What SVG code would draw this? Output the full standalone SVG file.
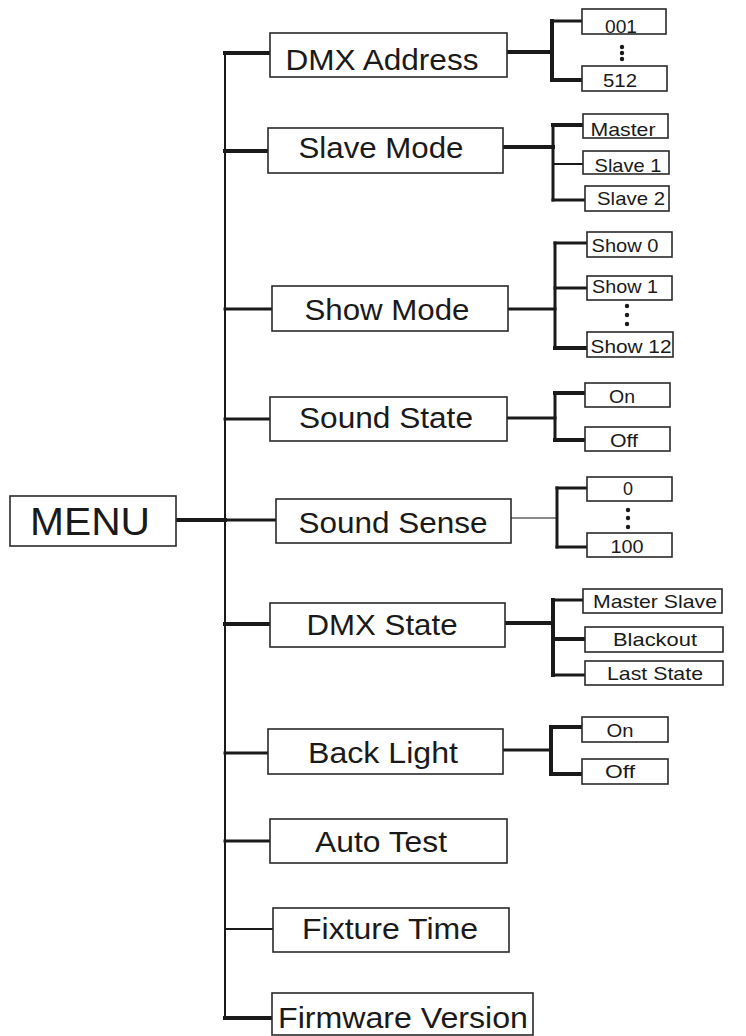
<svg xmlns="http://www.w3.org/2000/svg" width="746" height="1036" viewBox="0 0 746 1036">
<style>
.box{fill:#fff;stroke:#2a2a2a;stroke-width:1.6}
.lbl{font-family:"Liberation Sans",Arial,sans-serif;font-size:29px;fill:#1a1a1a;text-anchor:middle}
.opt{font-family:"Liberation Sans",Arial,sans-serif;font-size:19px;fill:#1a1a1a;text-anchor:middle}
.menu{font-family:"Liberation Sans",Arial,sans-serif;font-size:39px;fill:#1a1a1a;text-anchor:middle}
.c{stroke:#1a1a1a;fill:none;stroke-linecap:square}
.w2{stroke-width:2}.w3{stroke-width:3}.w4{stroke-width:4}
.g{stroke:#8a8a8a}
.dot{fill:#1a1a1a}
</style>
<g id="connectors">
  <!-- trunk -->
  <path class="c w2" d="M225 53 V1018"/>
  <!-- MENU -->
  <path class="c w4" d="M176 520 H225"/>
  <path class="c w3" d="M225 520 H276"/>
  <!-- DMX Address -->
  <path class="c w4" d="M225 53 H270"/>
  <path class="c w4" d="M507 52 H552"/>
  <path class="c w4" d="M552 21 V80"/>
  <path class="c w3" d="M552 21 H582"/>
  <path class="c w4" d="M552 80 H582"/>
  <!-- Slave Mode -->
  <path class="c w4" d="M225 151 H268"/>
  <path class="c w4" d="M503 147 H553"/>
  <path class="c w3" d="M553 125 V200"/>
  <path class="c w4" d="M553 125 H583"/>
  <path class="c w2" d="M553 164 H583"/>
  <path class="c w3" d="M553 200 H585"/>
  <!-- Show Mode -->
  <path class="c w3" d="M225 309 H272"/>
  <path class="c w3" d="M508 309 H555"/>
  <path class="c w3" d="M555 243 V348"/>
  <path class="c w3" d="M555 243 H587"/>
  <path class="c w3" d="M555 288 H587"/>
  <path class="c w4" d="M555 348 H587"/>
  <!-- Sound State -->
  <path class="c w3" d="M225 419 H270"/>
  <path class="c w3" d="M507 418 H555"/>
  <path class="c w3" d="M555 393 V440"/>
  <path class="c w4" d="M555 393 H585"/>
  <path class="c w4" d="M555 440 H585"/>
  <!-- Sound Sense -->
  <path class="c w2 g" d="M511 518 H557"/>
  <path class="c w3" d="M557 488 V547"/>
  <path class="c w3" d="M557 488 H587"/>
  <path class="c w3" d="M557 547 H587"/>
  <!-- DMX State -->
  <path class="c w4" d="M225 624 H270"/>
  <path class="c w4" d="M505 623 H553"/>
  <path class="c w4" d="M553 600 V675"/>
  <path class="c w3" d="M553 600 H583"/>
  <path class="c w4" d="M553 639 H585"/>
  <path class="c w3" d="M553 675 H585"/>
  <!-- Back Light -->
  <path class="c w3" d="M225 753 H268"/>
  <path class="c w3" d="M503 750 H551"/>
  <path class="c w4" d="M551 727 V774"/>
  <path class="c w4" d="M551 727 H582"/>
  <path class="c w4" d="M551 774 H582"/>
  <!-- Auto Test -->
  <path class="c w3" d="M225 841 H270"/>
  <!-- Fixture Time -->
  <path class="c w2" d="M225 929 H273"/>
  <!-- Firmware Version -->
  <path class="c w4" d="M225 1018 H272"/>
</g>
<g id="menu">
  <rect class="box" x="10" y="496" width="166" height="50"/>
  <text class="menu" x="90" y="535" textLength="120" lengthAdjust="spacingAndGlyphs">MENU</text>
</g>
<g id="dmx-address">
  <rect class="box" x="270" y="33" width="237" height="44"/>
  <text class="lbl" x="382" y="70" textLength="193" lengthAdjust="spacingAndGlyphs">DMX Address</text>
</g>
<g id="dmx-001">
  <rect class="box" x="582" y="9" width="84" height="25"/>
  <text class="opt" x="621" y="33" textLength="32" lengthAdjust="spacingAndGlyphs">001</text>
</g>
<g id="dmx-dots"><circle class="dot" cx="622" cy="47" r="2.2"/><circle class="dot" cx="622" cy="53" r="2.2"/><circle class="dot" cx="622" cy="59" r="2.2"/></g>
<g id="dmx-512">
  <rect class="box" x="582" y="66" width="85" height="25"/>
  <text class="opt" x="620" y="87" textLength="34" lengthAdjust="spacingAndGlyphs">512</text>
</g>
<g id="slave-mode">
  <rect class="box" x="268" y="128" width="235" height="45"/>
  <text class="lbl" x="381" y="158" textLength="165" lengthAdjust="spacingAndGlyphs">Slave Mode</text>
</g>
<g id="master">
  <rect class="box" x="583" y="114" width="85" height="24"/>
  <text class="opt" x="623" y="136" textLength="65" lengthAdjust="spacingAndGlyphs">Master</text>
</g>
<g id="slave1">
  <rect class="box" x="583" y="151" width="86" height="23"/>
  <text class="opt" x="628" y="172" textLength="67" lengthAdjust="spacingAndGlyphs">Slave 1</text>
</g>
<g id="slave2">
  <rect class="box" x="585" y="186" width="84" height="25"/>
  <text class="opt" x="631" y="205" textLength="68" lengthAdjust="spacingAndGlyphs">Slave 2</text>
</g>
<g id="show-mode">
  <rect class="box" x="272" y="286" width="236" height="45"/>
  <text class="lbl" x="387" y="320" textLength="165" lengthAdjust="spacingAndGlyphs">Show Mode</text>
</g>
<g id="show0">
  <rect class="box" x="587" y="232" width="85" height="25"/>
  <text class="opt" x="625" y="252" textLength="67" lengthAdjust="spacingAndGlyphs">Show 0</text>
</g>
<g id="show1">
  <rect class="box" x="587" y="276" width="85" height="24"/>
  <text class="opt" x="625" y="293" textLength="66" lengthAdjust="spacingAndGlyphs">Show 1</text>
</g>
<g id="show-dots"><circle class="dot" cx="627" cy="306" r="2.2"/><circle class="dot" cx="627" cy="315" r="2.2"/><circle class="dot" cx="627" cy="324" r="2.2"/></g>
<g id="show12">
  <rect class="box" x="587" y="332" width="86" height="25"/>
  <text class="opt" x="631" y="353" textLength="81" lengthAdjust="spacingAndGlyphs">Show 12</text>
</g>
<g id="sound-state">
  <rect class="box" x="270" y="397" width="237" height="44"/>
  <text class="lbl" x="386" y="428" textLength="174" lengthAdjust="spacingAndGlyphs">Sound State</text>
</g>
<g id="ss-on">
  <rect class="box" x="585" y="383" width="85" height="24"/>
  <text class="opt" x="622" y="403" textLength="26" lengthAdjust="spacingAndGlyphs">On</text>
</g>
<g id="ss-off">
  <rect class="box" x="585" y="427" width="85" height="24"/>
  <text class="opt" x="624" y="447" textLength="28" lengthAdjust="spacingAndGlyphs">Off</text>
</g>
<g id="sound-sense">
  <rect class="box" x="276" y="499" width="235" height="44"/>
  <text class="lbl" x="393" y="533" textLength="189" lengthAdjust="spacingAndGlyphs">Sound Sense</text>
</g>
<g id="sense-0">
  <rect class="box" x="587" y="477" width="85" height="24"/>
  <text class="opt" x="628" y="495" textLength="10" lengthAdjust="spacingAndGlyphs">0</text>
</g>
<g id="sense-dots"><circle class="dot" cx="628" cy="510" r="2.2"/><circle class="dot" cx="628" cy="518" r="2.2"/><circle class="dot" cx="628" cy="527" r="2.2"/></g>
<g id="sense-100">
  <rect class="box" x="587" y="533" width="85" height="24"/>
  <text class="opt" x="627" y="553" textLength="33" lengthAdjust="spacingAndGlyphs">100</text>
</g>
<g id="dmx-state">
  <rect class="box" x="270" y="603" width="235" height="44"/>
  <text class="lbl" x="382" y="635" textLength="151" lengthAdjust="spacingAndGlyphs">DMX State</text>
</g>
<g id="master-slave">
  <rect class="box" x="583" y="589" width="139" height="24"/>
  <text class="opt" x="655" y="608" textLength="124" lengthAdjust="spacingAndGlyphs">Master Slave</text>
</g>
<g id="blackout">
  <rect class="box" x="585" y="627" width="138" height="25"/>
  <text class="opt" x="655" y="646" textLength="84" lengthAdjust="spacingAndGlyphs">Blackout</text>
</g>
<g id="last-state">
  <rect class="box" x="585" y="661" width="138" height="24"/>
  <text class="opt" x="655" y="680" textLength="96" lengthAdjust="spacingAndGlyphs">Last State</text>
</g>
<g id="back-light">
  <rect class="box" x="268" y="729" width="235" height="45"/>
  <text class="lbl" x="383" y="763" textLength="150" lengthAdjust="spacingAndGlyphs">Back Light</text>
</g>
<g id="bl-on">
  <rect class="box" x="582" y="717" width="86" height="25"/>
  <text class="opt" x="620" y="737" textLength="27" lengthAdjust="spacingAndGlyphs">On</text>
</g>
<g id="bl-off">
  <rect class="box" x="582" y="759" width="86" height="25"/>
  <text class="opt" x="620" y="778" textLength="30" lengthAdjust="spacingAndGlyphs">Off</text>
</g>
<g id="auto-test">
  <rect class="box" x="270" y="819" width="237" height="44"/>
  <text class="lbl" x="381" y="852" textLength="132" lengthAdjust="spacingAndGlyphs">Auto Test</text>
</g>
<g id="fixture-time">
  <rect class="box" x="273" y="908" width="236" height="44"/>
  <text class="lbl" x="390" y="939" textLength="176" lengthAdjust="spacingAndGlyphs">Fixture Time</text>
</g>
<g id="firmware-version">
  <rect class="box" x="272" y="993" width="261" height="42"/>
  <text class="lbl" x="403" y="1028" textLength="250" lengthAdjust="spacingAndGlyphs">Firmware Version</text>
</g>
</svg>
